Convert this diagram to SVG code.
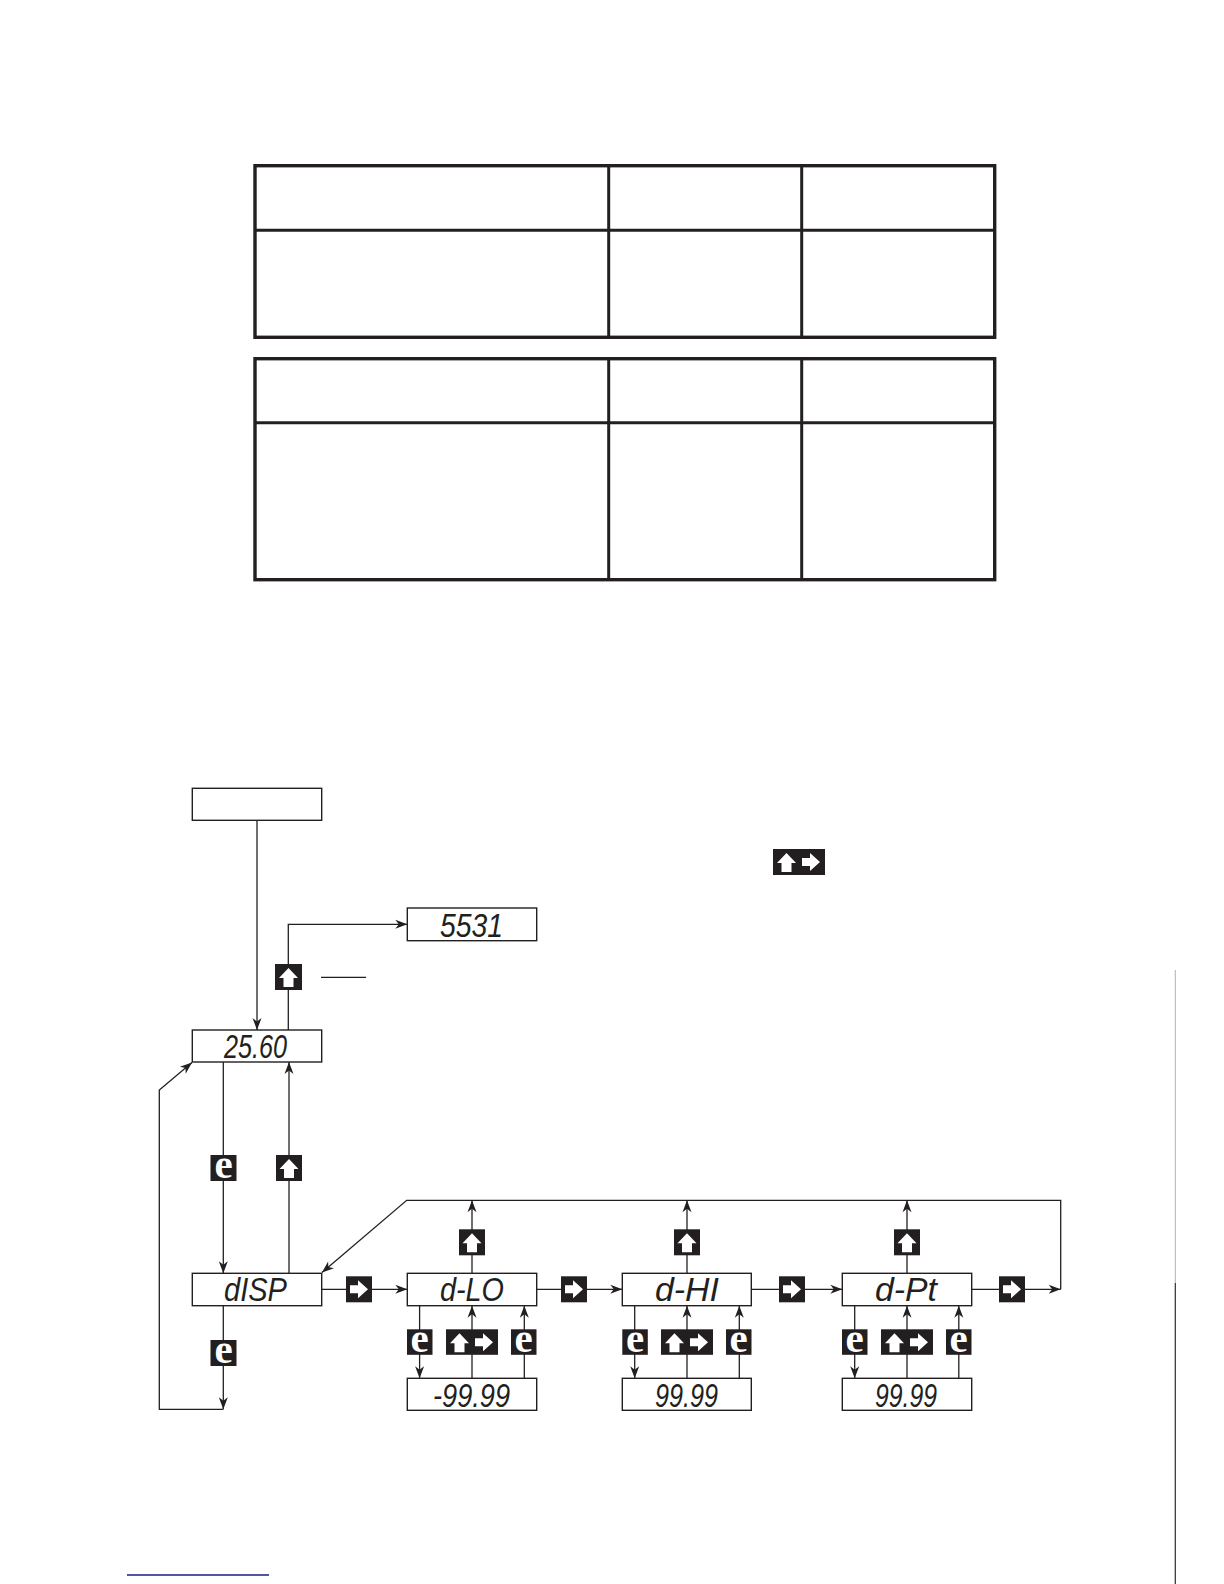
<svg xmlns="http://www.w3.org/2000/svg" width="1224" height="1584" viewBox="0 0 1224 1584">
<style>
.tbl{fill:none;stroke:#231f20;stroke-width:3.4}
.tin{stroke:#231f20;stroke-width:3}
.box{fill:#fff;stroke:#231f20;stroke-width:1.4}
.ln{fill:none;stroke:#231f20;stroke-width:1.3}
.ar{marker-end:url(#ah)}
.seg{font-family:"Liberation Sans",Arial,sans-serif;font-style:italic;font-size:33px;fill:#231f20}
.key{fill:#231f20}
.kg{fill:#fff}
.e{font-family:"Liberation Serif","Times New Roman",serif;font-weight:bold;font-size:41px;fill:#fff;text-anchor:middle}
</style>
<defs>
<marker id="ah" markerUnits="userSpaceOnUse" markerWidth="14" markerHeight="12" viewBox="-13 -6 14 12" refX="0" refY="0" orient="auto">
<path d="M0,0 L-12,-4.5 L-8.5,0 L-12,4.5 Z" fill="#231f20"/>
</marker>
<polygon id="upA" points="13.5,4 23,14 18.5,14 18.5,23 8.5,23 8.5,14 4,14"/>
<polygon id="rtA" points="4,9 12,9 12,4 22,13 12,22 12,17 4,17"/>
</defs>
<rect width="1224" height="1584" fill="#fff"/>

<g id="table1">
<rect class="tbl" x="255" y="165.7" width="739.7" height="171.6"/>
<line class="tin" x1="255" y1="230.3" x2="994.7" y2="230.3"/>
<line class="tin" x1="608.7" y1="165.7" x2="608.7" y2="337.3"/>
<line class="tin" x1="801.7" y1="165.7" x2="801.7" y2="337.3"/>
</g>
<g id="table2">
<rect class="tbl" x="255" y="358.7" width="739.7" height="221"/>
<line class="tin" x1="255" y1="422.7" x2="994.7" y2="422.7"/>
<line class="tin" x1="608.7" y1="358.7" x2="608.7" y2="579.7"/>
<line class="tin" x1="801.7" y1="358.7" x2="801.7" y2="579.7"/>
</g>

<g id="connectors">
<path class="ln ar" d="M257 820.3 V1030"/>
<path class="ln ar" d="M288.3 1030 V924.3 H407.3"/>
<path class="ln" d="M321 977.3 H366"/>
<path class="ln ar" d="M223.3 1062 V1273.3"/>
<path class="ln ar" d="M289 1273.3 V1062"/>
<path class="ln ar" d="M223.3 1305.7 V1409.3"/>
<path class="ln ar" d="M223.3 1409.3 H159.3 V1090 L192 1062.6"/>
<path class="ln ar" d="M321.7 1289.3 H407.3"/>
<path class="ln ar" d="M536.7 1289.3 H622.3"/>
<path class="ln ar" d="M751.3 1289.3 H842.3"/>
<path class="ln ar" d="M971.7 1289.3 H1060.7"/>
<path class="ln ar" d="M1060.7 1289.3 V1200.3 H406.7 L321.9 1272.6"/>
<path class="ln ar" d="M472 1273.3 V1200.3"/>
<path class="ln ar" d="M687 1273.3 V1200.3"/>
<path class="ln ar" d="M907 1273.3 V1200.3"/>
<path class="ln ar" d="M419.6 1305.7 V1378.3"/>
<path class="ln ar" d="M472 1378.3 V1305.7"/>
<path class="ln ar" d="M524.3 1378.3 V1305.7"/>
<path class="ln ar" d="M634.7 1305.7 V1378.3"/>
<path class="ln ar" d="M687 1378.3 V1305.7"/>
<path class="ln ar" d="M739.3 1378.3 V1305.7"/>
<path class="ln ar" d="M854.7 1305.7 V1378.3"/>
<path class="ln ar" d="M907 1378.3 V1305.7"/>
<path class="ln ar" d="M958.8 1378.3 V1305.7"/>
</g>

<g id="node-start"><rect class="box" x="192.3" y="788.3" width="129.4" height="32"/></g>
<g id="node-5531"><rect class="box" x="407.3" y="908" width="129.4" height="32.7"/><text class="seg" x="440" y="936.7" textLength="63" lengthAdjust="spacingAndGlyphs">5531</text></g>
<g id="node-2560"><rect class="box" x="192.3" y="1030" width="129.4" height="32"/><text class="seg" x="224" y="1058" textLength="63" lengthAdjust="spacingAndGlyphs">25.60</text></g>
<g id="node-disp"><rect class="box" x="192.3" y="1273.3" width="129.4" height="32.4"/><text class="seg" x="224" y="1300.7" textLength="63" lengthAdjust="spacingAndGlyphs">dISP</text></g>
<g id="node-dlo"><rect class="box" x="407.3" y="1273.3" width="129.4" height="32.4"/><text class="seg" x="440" y="1300.7" textLength="64" lengthAdjust="spacingAndGlyphs">d-LO</text></g>
<g id="node-dhi"><rect class="box" x="622.3" y="1273.3" width="129" height="32.4"/><text class="seg" x="655" y="1300.7" textLength="64" lengthAdjust="spacingAndGlyphs">d-HI</text></g>
<g id="node-dpt"><rect class="box" x="842.3" y="1273.3" width="129.4" height="32.4"/><text class="seg" x="875" y="1300.7" textLength="62" lengthAdjust="spacingAndGlyphs">d-Pt</text></g>
<g id="node-lo-val"><rect class="box" x="407.3" y="1378.3" width="129.4" height="32"/><text class="seg" x="433" y="1406.7" textLength="77" lengthAdjust="spacingAndGlyphs">-99.99</text></g>
<g id="node-hi-val"><rect class="box" x="622.3" y="1378.3" width="129" height="32"/><text class="seg" x="655" y="1406.7" textLength="63" lengthAdjust="spacingAndGlyphs">99.99</text></g>
<g id="node-pt-val"><rect class="box" x="842.3" y="1378.3" width="129.4" height="32"/><text class="seg" x="875" y="1406.7" textLength="62" lengthAdjust="spacingAndGlyphs">99.99</text></g>

<g id="keys">
<g id="key-legend"><rect class="key" x="773" y="849" width="52" height="26"/><use href="#upA" class="kg" x="773" y="849"/><use href="#rtA" class="kg" x="798" y="849"/></g>
<g id="key-up-5531"><rect class="key" x="275" y="964" width="27" height="26"/><use href="#upA" class="kg" x="275" y="964"/></g>
<g id="key-e-1"><rect class="key" x="210.5" y="1155" width="26" height="26"/><text class="e" x="223.5" y="1177.5">e</text></g>
<g id="key-up-1"><rect class="key" x="276" y="1155" width="26" height="26"/><use href="#upA" class="kg" x="275.5" y="1155"/></g>
<g id="key-e-2"><rect class="key" x="210.5" y="1340" width="26" height="26"/><text class="e" x="223.5" y="1362.5">e</text></g>
<g id="key-rt-1"><rect class="key" x="346" y="1276.3" width="26" height="26"/><use href="#rtA" class="kg" x="346" y="1276.3"/></g>
<g id="key-rt-2"><rect class="key" x="561" y="1276.3" width="26" height="26"/><use href="#rtA" class="kg" x="561" y="1276.3"/></g>
<g id="key-rt-3"><rect class="key" x="779" y="1276.3" width="26" height="26"/><use href="#rtA" class="kg" x="779" y="1276.3"/></g>
<g id="key-rt-4"><rect class="key" x="999" y="1276.3" width="26" height="26"/><use href="#rtA" class="kg" x="999" y="1276.3"/></g>
<g id="key-up-lo"><rect class="key" x="459" y="1229.3" width="26" height="26"/><use href="#upA" class="kg" x="458.5" y="1229.3"/></g>
<g id="key-up-hi"><rect class="key" x="674" y="1229.3" width="26" height="26"/><use href="#upA" class="kg" x="673.5" y="1229.3"/></g>
<g id="key-up-pt"><rect class="key" x="894" y="1229.3" width="26" height="26"/><use href="#upA" class="kg" x="893.5" y="1229.3"/></g>

<g id="keys-lo"><rect class="key" x="407" y="1329.3" width="25.5" height="25.5"/><text class="e" x="419.7" y="1351.8">e</text>
<rect class="key" x="446" y="1329.3" width="52" height="25.5"/><use href="#upA" class="kg" x="446" y="1329.3"/><use href="#rtA" class="kg" x="471" y="1329.3"/>
<rect class="key" x="511" y="1329.3" width="25.5" height="25.5"/><text class="e" x="523.7" y="1351.8">e</text></g>
<g id="keys-hi"><rect class="key" x="622.3" y="1329.3" width="25.5" height="25.5"/><text class="e" x="635" y="1351.8">e</text>
<rect class="key" x="661" y="1329.3" width="52" height="25.5"/><use href="#upA" class="kg" x="661" y="1329.3"/><use href="#rtA" class="kg" x="686" y="1329.3"/>
<rect class="key" x="726" y="1329.3" width="25.5" height="25.5"/><text class="e" x="738.7" y="1351.8">e</text></g>
<g id="keys-pt"><rect class="key" x="842" y="1329.3" width="25.5" height="25.5"/><text class="e" x="854.7" y="1351.8">e</text>
<rect class="key" x="881" y="1329.3" width="52" height="25.5"/><use href="#upA" class="kg" x="881" y="1329.3"/><use href="#rtA" class="kg" x="906" y="1329.3"/>
<rect class="key" x="946" y="1329.3" width="25.5" height="25.5"/><text class="e" x="958.7" y="1351.8">e</text></g>
</g>

<g id="page-marks">
<line x1="127" y1="1575" x2="269" y2="1575" stroke="#1a1a8a" stroke-width="1.5"/>
<line x1="1175.3" y1="970" x2="1175.3" y2="1283" stroke="#9fb6c8" stroke-width="1"/>
<line x1="1175.3" y1="1283" x2="1175.3" y2="1584" stroke="#2e2e1e" stroke-width="1.2"/>
</g>
</svg>
